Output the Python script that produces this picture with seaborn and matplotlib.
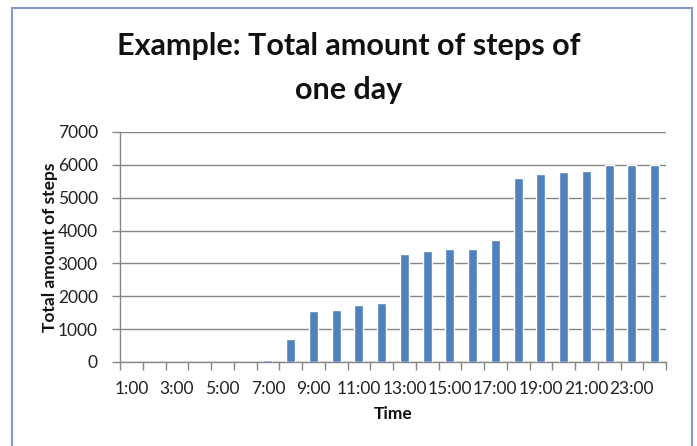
import matplotlib
matplotlib.use("Agg")
import matplotlib.pyplot as plt
from matplotlib.patches import Rectangle
import seaborn as sns
import pandas as pd

# Hourly cumulative step counts for one day
hours = [f"{h}:00" for h in range(1, 25)]
steps = [0, 0, 0, 0, 0, 0, 50, 700, 1550, 1590, 1730, 1800,
         3300, 3370, 3440, 3440, 3720, 5590, 5730, 5770, 5800, 6000, 6000, 6000]
tick_labels = [h if i % 2 == 0 else "" for i, h in enumerate(hours)]
y_ticks = [0, 1000, 2000, 3000, 4000, 5000, 6000, 7000]

title_lines = ["Example: Total amount of steps of", "one day"]
x_title = "Time"
y_title = "Total amount of steps"

df = pd.DataFrame({"hour": hours, "steps": steps})

sns.set_theme(style="white")
plt.rcParams["font.family"] = ["Lato", "DejaVu Sans"]

fig = plt.figure(figsize=(6.97, 4.46), dpi=100)
ax = fig.add_axes([120 / 697, 1 - 362 / 446, 546 / 697, 230 / 446])

sns.barplot(data=df, x="hour", y="steps", order=hours, color="#4F81BD",
            saturation=1, width=0.4, ax=ax, zorder=3)

grid_col = "#868686"
ax.set_ylim(0, 7000)
ax.set_xlim(-0.5, len(hours) - 0.5)
ax.set_yticks(y_ticks)
ax.set_yticklabels([str(v) for v in y_ticks], fontsize=12.5, color="#222222")
ax.yaxis.grid(True, color=grid_col, linewidth=1.0, zorder=0)
ax.set_axisbelow(True)

# category labels at bar centres, tick marks at category boundaries
ax.set_xticks(range(len(hours)))
ax.set_xticklabels(tick_labels, fontsize=12.5, color="#222222")
ax.set_xticks([i - 0.5 for i in range(len(hours) + 1)], minor=True)
ax.tick_params(axis="x", which="major", length=0, pad=14)
ax.tick_params(axis="x", which="minor", length=6, width=1, color=grid_col,
               direction="out", bottom=True)
ax.tick_params(axis="y", which="major", length=6, width=1, color=grid_col,
               direction="out", left=True, pad=10)

for side in ["top", "right"]:
    ax.spines[side].set_visible(False)
for side in ["left", "bottom"]:
    ax.spines[side].set_color(grid_col)
    ax.spines[side].set_linewidth(1.0)

ax.set_xlabel(x_title, fontsize=12.5, fontweight="bold", color="#111111")
ax.set_ylabel(y_title, fontsize=12.5, fontweight="bold", color="#111111")
ax.xaxis.set_label_coords(0.5, -0.19)
ax.yaxis.set_label_coords(-0.113, 0.5)

# two-line chart title
for line, base_px in zip(title_lines, [55, 99]):
    fig.text(0.5, 1 - base_px / 446, line, ha="center", va="baseline",
             fontsize=22, fontweight="bold", color="#111111")

# chart border
fig.patches.append(Rectangle((12 / 697, -0.02), 680 / 697, 1 - 8 / 446 + 0.02,
                             transform=fig.transFigure, fill=False,
                             edgecolor="#7F9DC6", linewidth=1.5))

fig.savefig("out.png", dpi=100)
